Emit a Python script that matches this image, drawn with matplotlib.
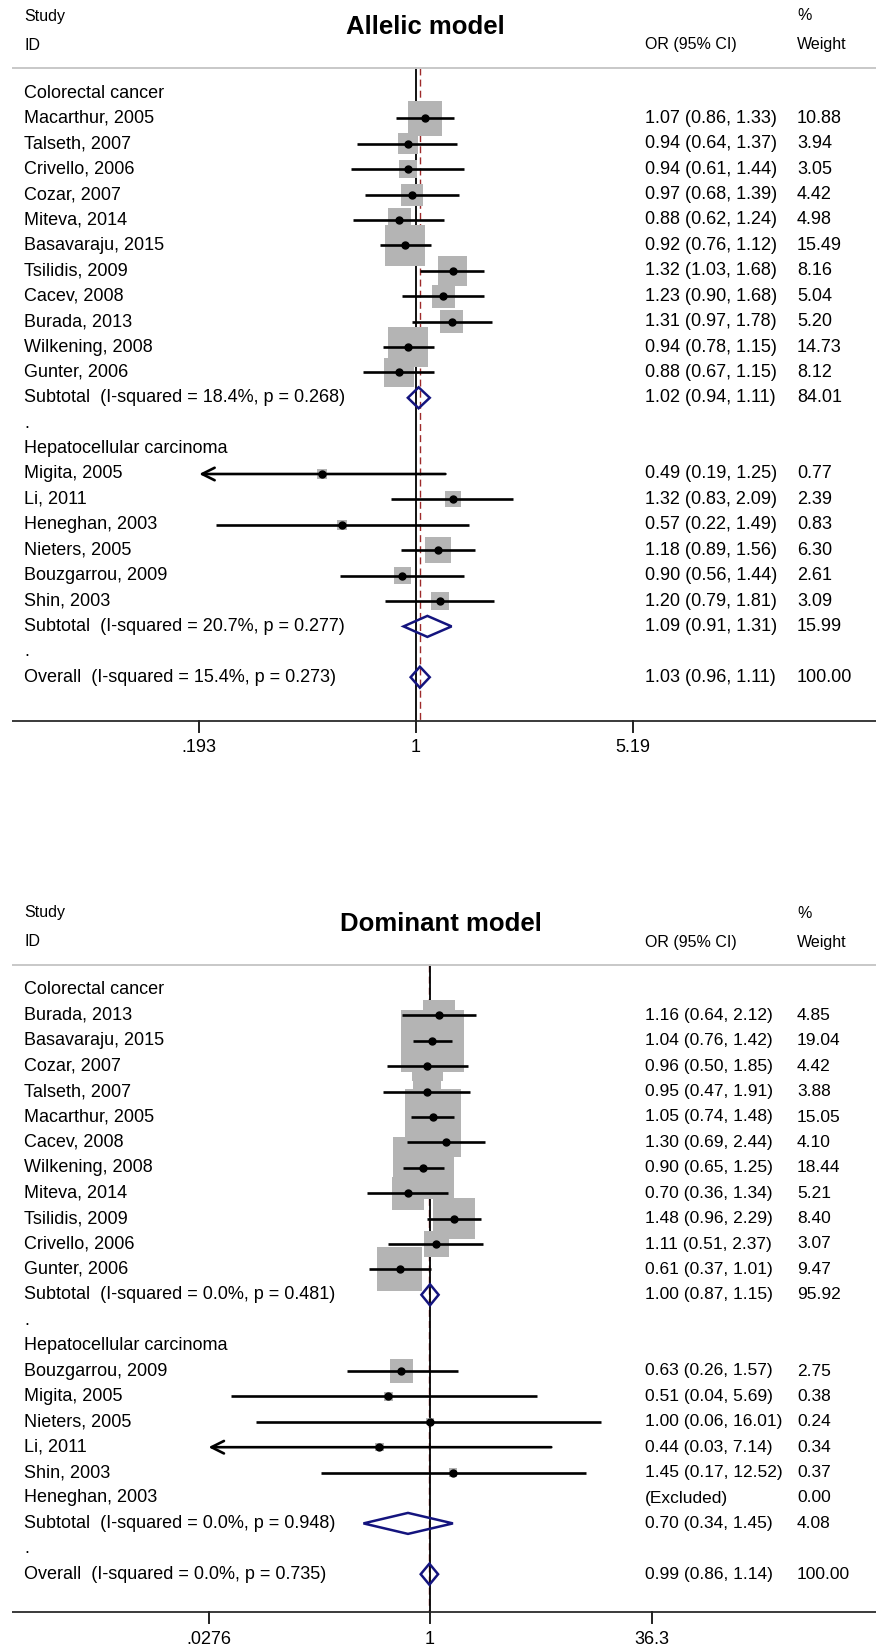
import numpy as np
import matplotlib
matplotlib.use("Agg")
import matplotlib.pyplot as plt
from matplotlib import transforms, font_manager
from matplotlib.patches import Rectangle, Polygon

# ---------------- Allelic model ----------------
allelic_study = ["Macarthur, 2005", "Talseth, 2007", "Crivello, 2006", "Cozar, 2007",
                 "Miteva, 2014", "Basavaraju, 2015", "Tsilidis, 2009", "Cacev, 2008",
                 "Burada, 2013", "Wilkening, 2008", "Gunter, 2006",
                 "Migita, 2005", "Li, 2011", "Heneghan, 2003", "Nieters, 2005",
                 "Bouzgarrou, 2009", "Shin, 2003"]
allelic_group = [0] * 11 + [1] * 6
allelic_or = [1.07, 0.94, 0.94, 0.97, 0.88, 0.92, 1.32, 1.23, 1.31, 0.94, 0.88,
              0.49, 1.32, 0.57, 1.18, 0.90, 1.20]
allelic_lo = [0.86, 0.64, 0.61, 0.68, 0.62, 0.76, 1.03, 0.90, 0.97, 0.78, 0.67,
              0.19, 0.83, 0.22, 0.89, 0.56, 0.79]
allelic_hi = [1.33, 1.37, 1.44, 1.39, 1.24, 1.12, 1.68, 1.68, 1.78, 1.15, 1.15,
              1.25, 2.09, 1.49, 1.56, 1.44, 1.81]
allelic_wt = [10.88, 3.94, 3.05, 4.42, 4.98, 15.49, 8.16, 5.04, 5.20, 14.73, 8.12,
              0.77, 2.39, 0.83, 6.30, 2.61, 3.09]
allelic_sub_or = [1.02, 1.09]
allelic_sub_lo = [0.94, 0.91]
allelic_sub_hi = [1.11, 1.31]
allelic_sub_wt = [84.01, 15.99]
allelic_sub_i2 = [18.4, 20.7]
allelic_sub_p = [0.268, 0.277]
allelic_overall = [1.03, 0.96, 1.11]
allelic_overall_i2 = 15.4
allelic_overall_p = 0.273
allelic_ticks = [0.193, 1, 5.19]
allelic_ticklabels = [".193", "1", "5.19"]
allelic_truncated = ["Migita, 2005"]

# ---------------- Dominant model ----------------
dominant_study = ["Burada, 2013", "Basavaraju, 2015", "Cozar, 2007", "Talseth, 2007",
                  "Macarthur, 2005", "Cacev, 2008", "Wilkening, 2008", "Miteva, 2014",
                  "Tsilidis, 2009", "Crivello, 2006", "Gunter, 2006",
                  "Bouzgarrou, 2009", "Migita, 2005", "Nieters, 2005", "Li, 2011",
                  "Shin, 2003", "Heneghan, 2003"]
dominant_group = [0] * 11 + [1] * 6
dominant_or = [1.16, 1.04, 0.96, 0.95, 1.05, 1.30, 0.90, 0.70, 1.48, 1.11, 0.61,
               0.63, 0.51, 1.00, 0.44, 1.45, np.nan]
dominant_lo = [0.64, 0.76, 0.50, 0.47, 0.74, 0.69, 0.65, 0.36, 0.96, 0.51, 0.37,
               0.26, 0.04, 0.06, 0.03, 0.17, np.nan]
dominant_hi = [2.12, 1.42, 1.85, 1.91, 1.48, 2.44, 1.25, 1.34, 2.29, 2.37, 1.01,
               1.57, 5.69, 16.01, 7.14, 12.52, np.nan]
dominant_wt = [4.85, 19.04, 4.42, 3.88, 15.05, 4.10, 18.44, 5.21, 8.40, 3.07, 9.47,
               2.75, 0.38, 0.24, 0.34, 0.37, 0.00]
dominant_sub_or = [1.00, 0.70]
dominant_sub_lo = [0.87, 0.34]
dominant_sub_hi = [1.15, 1.45]
dominant_sub_wt = [95.92, 4.08]
dominant_sub_i2 = [0.0, 0.0]
dominant_sub_p = [0.481, 0.948]
dominant_overall = [0.99, 0.86, 1.14]
dominant_overall_i2 = 0.0
dominant_overall_p = 0.735
dominant_ticks = [0.0276, 1, 36.3]
dominant_ticklabels = [".0276", "1", "36.3"]
dominant_truncated = ["Li, 2011"]

group_names = ["Colorectal cancer", "Hepatocellular carcinoma"]

# ---------------- layout (pixels) ----------------
W, H = 876, 1646
ROW_H = 25.4
TEXT_X = 24
LINE_X0 = 12
BOX_GREY = "#b4b4b4"
DIAMOND = "#14147e"
DASH_RED = "#9e2a2a"


def has_font(name):
    try:
        font_manager.findfont(font_manager.FontProperties(family=name),
                              fallback_to_default=False)
        return True
    except ValueError:
        return False


BODY_FONT = "Liberation Sans"
HEAD_FONT = "Liberation Sans Narrow" if has_font("Liberation Sans Narrow") else BODY_FONT
HEAD_SIZE = 13.5 if HEAD_FONT != BODY_FONT else 11.5

plt.rcParams["font.family"] = [BODY_FONT, "DejaVu Sans"]


def draw_forest(fig, top_px, height_px, row0_px, axis_px, one_px, px_per_log, box_px,
                title, title_x, study, group, est, lo, hi, wt,
                sub_est, sub_lo, sub_hi, sub_wt, sub_i2, sub_p,
                overall, overall_i2, overall_p, ticks, ticklabels, truncated,
                val_x, wt_x, val_size):
    ax = fig.add_axes([0, 1 - (top_px + height_px) / H, 1, height_px / H])
    ax.set_xscale("log")
    ax.set_xlim(np.exp(-one_px / px_per_log), np.exp((W - one_px) / px_per_log))
    ax.set_ylim((top_px + height_px - row0_px) / ROW_H, (top_px - row0_px) / ROW_H)
    ax.axis("off")
    tx = transforms.blended_transform_factory(ax.transAxes, ax.transData)

    def rows(px):
        return px / ROW_H

    body = dict(fontsize=13, va="center", transform=tx)
    head = dict(fontsize=HEAD_SIZE, family=HEAD_FONT, va="center", transform=tx)

    # header
    ax.text(TEXT_X / W, rows(-77), "Study", **head)
    ax.text(TEXT_X / W, rows(-48), "ID", **head)
    ax.text(val_x / W, rows(-48), "OR (95% CI)", **head)
    ax.text(wt_x / W, rows(-77), "%", **head)
    ax.text(wt_x / W, rows(-48), "Weight", **head)
    ax.text(title_x / W, rows(-66), title, fontsize=18.5, fontweight="bold",
            ha="center", va="center", transform=tx)

    sep_row = rows(-25)
    axis_row = rows(axis_px - row0_px)
    ax.plot([LINE_X0 / W, 1], [sep_row, sep_row], color="#c8c8c8", lw=1.4,
            transform=tx, solid_capstyle="butt")
    ax.plot([LINE_X0 / W, 1], [axis_row, axis_row], color="#3a3a3a", lw=1.4,
            transform=tx, solid_capstyle="butt")
    for t, lab in zip(ticks, ticklabels):
        ax.plot([t, t], [axis_row, axis_row + rows(11)], color="#222222", lw=1.4)
        ax.text(t, axis_row + rows(27), lab, fontsize=13, ha="center", va="center")

    # overall estimate (dashed) under the line of no effect
    ax.plot([overall[0]] * 2, [sep_row, axis_row], color=DASH_RED, lw=1.0,
            dashes=(5, 3), zorder=1)
    ax.plot([1, 1], [sep_row, axis_row], color="black", lw=1.3, zorder=1.1)

    left_clip = ticks[0]
    half_log = lambda px: px / 2.0 / px_per_log

    def study_row(r, name, e, l, h, w):
        ax.text(TEXT_X / W, r, name, **body)
        if np.isnan(e):
            ax.text(val_x / W, r, "(Excluded)", fontsize=val_size, va="center", transform=tx)
        else:
            ax.text(val_x / W, r, f"{e:.2f} ({l:.2f}, {h:.2f})", fontsize=val_size,
                    va="center", transform=tx)
            side = box_px * np.sqrt(w)
            hl = half_log(side)
            ax.add_patch(Rectangle((e * np.exp(-hl), r - rows(side) / 2),
                                   e * np.exp(hl) - e * np.exp(-hl), rows(side),
                                   facecolor=BOX_GREY, edgecolor="none", zorder=2))
            if name in truncated:
                ax.annotate("", xy=(left_clip, r), xytext=(h, r),
                            arrowprops=dict(arrowstyle="->,head_length=0.9,head_width=0.45",
                                            color="black", lw=1.9, shrinkA=0, shrinkB=0),
                            zorder=3)
            else:
                ax.plot([l, h], [r, r], color="black", lw=1.9, zorder=3,
                        solid_capstyle="butt")
            ax.plot([e], [r], "o", color="black", ms=5, zorder=4)
        ax.text(wt_x / W, r, f"{w:.2f}", fontsize=val_size, va="center", transform=tx)

    def diamond_row(r, label, e, l, h, w):
        ax.text(TEXT_X / W, r, label, **body)
        hh = rows(10.5)
        ax.add_patch(Polygon([(l, r), (e, r - hh), (h, r), (e, r + hh)], closed=True,
                             facecolor="none", edgecolor=DIAMOND, lw=1.8, zorder=3))
        ax.text(val_x / W, r, f"{e:.2f} ({l:.2f}, {h:.2f})", fontsize=val_size,
                va="center", transform=tx)
        ax.text(wt_x / W, r, f"{w:.2f}", fontsize=val_size, va="center", transform=tx)

    r = 0
    for g, gname in enumerate(group_names):
        ax.text(TEXT_X / W, r, gname, **body)
        r += 1
        for i in range(len(study)):
            if group[i] != g:
                continue
            study_row(r, study[i], est[i], lo[i], hi[i], wt[i])
            r += 1
        diamond_row(r, f"Subtotal  (I-squared = {sub_i2[g]:.1f}%, p = {sub_p[g]:.3f})",
                    sub_est[g], sub_lo[g], sub_hi[g], sub_wt[g])
        r += 1
        ax.text(TEXT_X / W, r, ".", **body)
        r += 1
    diamond_row(r, f"Overall  (I-squared = {overall_i2:.1f}%, p = {overall_p:.3f})",
                overall[0], overall[1], overall[2], 100.0)
    return ax


fig = plt.figure(figsize=(W / 100, H / 100), dpi=100)
fig.patch.set_facecolor("white")

draw_forest(fig, 0, 823, 93, 721, 416, 131.8, 10.4, "Allelic model", 425,
            allelic_study, allelic_group, allelic_or, allelic_lo, allelic_hi, allelic_wt,
            allelic_sub_or, allelic_sub_lo, allelic_sub_hi, allelic_sub_wt,
            allelic_sub_i2, allelic_sub_p, allelic_overall, allelic_overall_i2,
            allelic_overall_p, allelic_ticks, allelic_ticklabels, allelic_truncated,
            645, 797, 13)

draw_forest(fig, 823, 823, 990, 1612, 430, 61.7, 14.3, "Dominant model", 441,
            dominant_study, dominant_group, dominant_or, dominant_lo, dominant_hi,
            dominant_wt, dominant_sub_or, dominant_sub_lo, dominant_sub_hi,
            dominant_sub_wt, dominant_sub_i2, dominant_sub_p, dominant_overall,
            dominant_overall_i2, dominant_overall_p, dominant_ticks,
            dominant_ticklabels, dominant_truncated, 645, 797, 12.5)

fig.savefig("out.png", dpi=100, facecolor="white")
